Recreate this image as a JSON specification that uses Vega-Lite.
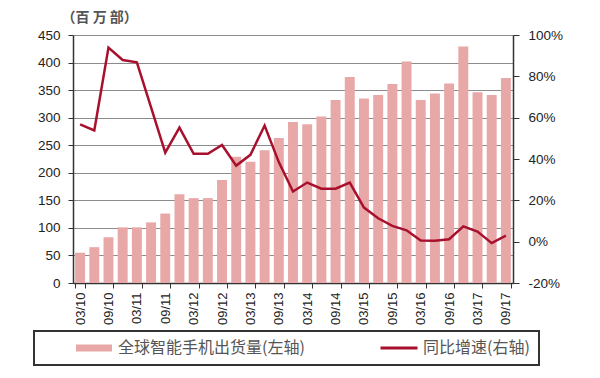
{
  "$schema": "https://vega.github.io/schema/vega-lite/v6.json",
  "width": 440,
  "height": 248,
  "autosize": {"type": "none"},
  "padding": {"left": 73, "top": 35, "right": 87, "bottom": 95},
  "background": "white",
  "data": {
    "values": [
      {"q": "03/10", "ship": 55, "yoy": 0.568},
      {"q": "06/10", "ship": 65, "yoy": 0.538},
      {"q": "09/10", "ship": 83, "yoy": 0.939},
      {"q": "12/10", "ship": 101, "yoy": 0.879},
      {"q": "03/11", "ship": 101, "yoy": 0.868},
      {"q": "06/11", "ship": 110, "yoy": 0.65},
      {"q": "09/11", "ship": 126, "yoy": 0.431},
      {"q": "12/11", "ship": 161, "yoy": 0.552},
      {"q": "03/12", "ship": 154, "yoy": 0.425},
      {"q": "06/12", "ship": 154, "yoy": 0.425},
      {"q": "09/12", "ship": 187, "yoy": 0.468},
      {"q": "12/12", "ship": 229, "yoy": 0.368},
      {"q": "03/13", "ship": 220, "yoy": 0.42},
      {"q": "06/13", "ship": 241, "yoy": 0.562},
      {"q": "09/13", "ship": 263, "yoy": 0.385},
      {"q": "12/13", "ship": 292, "yoy": 0.243},
      {"q": "03/14", "ship": 288, "yoy": 0.286},
      {"q": "06/14", "ship": 302, "yoy": 0.256},
      {"q": "09/14", "ship": 332, "yoy": 0.256},
      {"q": "12/14", "ship": 374, "yoy": 0.286},
      {"q": "03/15", "ship": 335, "yoy": 0.165},
      {"q": "06/15", "ship": 341, "yoy": 0.113},
      {"q": "09/15", "ship": 361, "yoy": 0.076},
      {"q": "12/15", "ship": 402, "yoy": 0.055},
      {"q": "03/16", "ship": 332, "yoy": 0.006},
      {"q": "06/16", "ship": 344, "yoy": 0.005},
      {"q": "09/16", "ship": 362, "yoy": 0.012},
      {"q": "12/16", "ship": 429, "yoy": 0.074},
      {"q": "03/17", "ship": 346, "yoy": 0.049},
      {"q": "06/17", "ship": 341, "yoy": -0.007},
      {"q": "09/17", "ship": 372, "yoy": 0.029}
    ]
  },
  "encoding": {
    "x": {
      "field": "q",
      "type": "ordinal",
      "sort": null,
      "scale": {"paddingInner": 0.3, "paddingOuter": 0.15},
      "axis": {
        "title": null,
        "values": ["03/10","09/10","03/11","09/11","03/12","09/12","03/13","09/13","03/14","09/14","03/15","09/15","03/16","09/16","03/17","09/17"],
        "tickBand": "extent",
        "labelAngle": -90,
        "labelFont": "Liberation Sans",
        "labelFontSize": 13,
        "labelColor": "#222222",
        "labelPadding": 4,
        "tickSize": 5,
        "tickColor": "#333333",
        "domainColor": "#333333",
        "domainWidth": 1.5,
        "grid": false
      }
    }
  },
  "layer": [
    {
      "mark": {"type": "bar"},
      "encoding": {
        "y": {
          "field": "ship",
          "type": "quantitative",
          "scale": {"domain": [0, 450], "nice": false},
          "axis": {
            "values": [0, 50, 100, 150, 200, 250, 300, 350, 400, 450],
            "grid": true,
            "gridColor": "#8c8c8c",
            "gridWidth": 1,
            "domainColor": "#333333",
            "domainWidth": 1.5,
            "tickColor": "#333333",
            "tickSize": 5,
            "labelFont": "Liberation Sans",
            "labelFontSize": 13.5,
            "labelColor": "#222222",
            "labelPadding": 8,
            "title": "（百 万 部）",
            "titleAngle": 0,
            "titleAlign": "left",
            "titleBaseline": "middle",
            "titleX": -12,
            "titleY": -18,
            "titleFont": "Noto Sans CJK SC",
            "titleFontSize": 14,
            "titleFontWeight": "bold",
            "titleColor": "#555555"
          }
        },
        "color": {
          "datum": "全球智能手机出货量(左轴)",
          "scale": {
            "domain": ["全球智能手机出货量(左轴)", "同比增速(右轴)"],
            "range": ["#E8A8A8", "#A8112E"]
          },
          "legend": {
            "orient": "none",
            "legendX": -39,
            "legendY": 296,
            "direction": "horizontal",
            "title": null,
            "padding": 9,
            "strokeColor": "#333333",
            "fillColor": "white",
            "symbolSize": 100,
            "symbolOffset": 43,
            "labelOffset": 16,
            "columnPadding": 43,
            "labelFont": "Noto Sans CJK SC",
            "labelFontSize": 16,
            "labelColor": "#555555",
            "labelLimit": 0,
            "labelExpr": "datum.value == '同比增速(右轴)' ? datum.label + '\u3000\u00a0\u00a0' : datum.label",
            "encode": {
              "legend": {
                "update": {
                  "strokeWidth": {"value": 2}
                }
              },
              "symbols": {
                "update": {
                  "shape": {"signal": "datum.value == '全球智能手机出货量(左轴)' ? 'M-3.6,-0.7H3.6V0.7H-3.6Z' : 'M-3.7,-0.3H3.7V0.3H-3.7Z'"},
                  "fill": {"signal": "datum.value == '全球智能手机出货量(左轴)' ? '#E8A8A8' : '#A8112E'"},
                  "stroke": {"value": "transparent"},
                  "strokeWidth": {"value": 0},
                  "opacity": {"value": 1}
                }
              }
            }
          }
        }
      }
    },
    {
      "mark": {"type": "line", "strokeWidth": 2.5},
      "encoding": {
        "y": {
          "field": "yoy",
          "type": "quantitative",
          "scale": {"domain": [-0.2, 1.0], "nice": false},
          "axis": {
            "orient": "right",
            "values": [-0.2, 0, 0.2, 0.4, 0.6, 0.8, 1.0],
            "labelExpr": "round(datum.value*100) + '%'",
            "grid": false,
            "domainColor": "#333333",
            "domainWidth": 1.5,
            "tickColor": "#333333",
            "tickSize": 6,
            "labelFont": "Liberation Sans",
            "labelFontSize": 13.5,
            "labelColor": "#222222",
            "labelPadding": 9,
            "title": null
          }
        },
        "color": {"datum": "同比增速(右轴)"}
      }
    }
  ],
  "resolve": {"scale": {"y": "independent"}},
  "config": {"view": {"stroke": null}}
}
